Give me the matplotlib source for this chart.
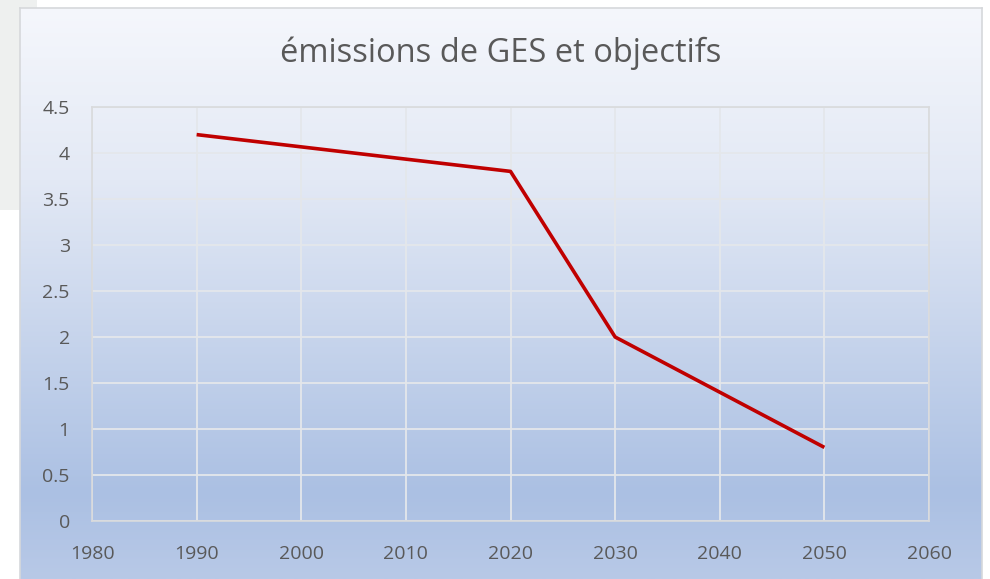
import matplotlib
matplotlib.use("Agg")
import matplotlib.pyplot as plt
import numpy as np
from matplotlib.colors import LinearSegmentedColormap
from matplotlib.patches import Rectangle

# data
years = [1990, 2020, 2030, 2050]
emissions = [4.2, 3.8, 2.0, 0.8]
x_ticks = [1980, 1990, 2000, 2010, 2020, 2030, 2040, 2050, 2060]
y_ticks = [0, 0.5, 1, 1.5, 2, 2.5, 3, 3.5, 4, 4.5]
y_labels = ["0", "0.5", "1", "1.5", "2", "2.5", "3", "3.5", "4", "4.5"]
title = "émissions de GES et objectifs"

W, H = 990, 579
fig = plt.figure(figsize=(W / 100, H / 100), dpi=100)
fig.patch.set_facecolor("white")
plt.rcParams["font.family"] = ["Open Sans", "DejaVu Sans"]

# page background strip at top-left
fig.patches.append(Rectangle((0, 1 - 210 / H), 37 / W, 210 / H, transform=fig.transFigure,
                             facecolor="#eef0ef", edgecolor="none", zorder=0))

# chart area with vertical gradient
cx0, cx1, cy_top = 20 / W, 982 / W, 1 - 8 / H
bg = fig.add_axes([cx0, 0, cx1 - cx0, cy_top], zorder=1)
cmap = LinearSegmentedColormap.from_list(
    "grad", [(0, "#f5f7fc"), (0.3, "#e3e9f5"), (0.85, "#abc0e3"), (1.0, "#b8c9e7")])
grad = np.linspace(0, 1, 256).reshape(-1, 1)
bg.imshow(grad, aspect="auto", cmap=cmap, extent=[0, 1, 0, 1], origin="upper")
bg.set_xlim(0, 1)
bg.set_ylim(0, 1)
bg.set_xticks([])
bg.set_yticks([])
for s in bg.spines.values():
    s.set_color("#d6d8db")
    s.set_linewidth(1.2)
bg.spines["bottom"].set_visible(False)

ax = fig.add_axes([92 / W, 1 - 521 / H, (929 - 92) / W, (521 - 107) / H], zorder=2)
ax.patch.set_alpha(0)
ax.plot(years, emissions, color="#c00000", lw=2.6, solid_capstyle="butt", zorder=3)
ax.set_xlim(1980, 2060)
ax.set_ylim(0, 4.5)
ax.set_xticks(x_ticks)
ax.set_yticks(y_ticks)
ax.set_yticklabels(y_labels)
ax.grid(True, color="#e4e7eb", lw=1.3)
ax.set_axisbelow(True)
ax.tick_params(length=0, labelsize=14, colors="#595959", pad=16)
ax.tick_params(axis="x", pad=17)
for s in ax.spines.values():
    s.set_color("#d9dadc")
    s.set_linewidth(1.2)

fig.text(501 / W, 1 - 53 / H, title, ha="center", va="center",
         fontsize=23.5, color="#595959")

fig.savefig("out.png", dpi=100)
